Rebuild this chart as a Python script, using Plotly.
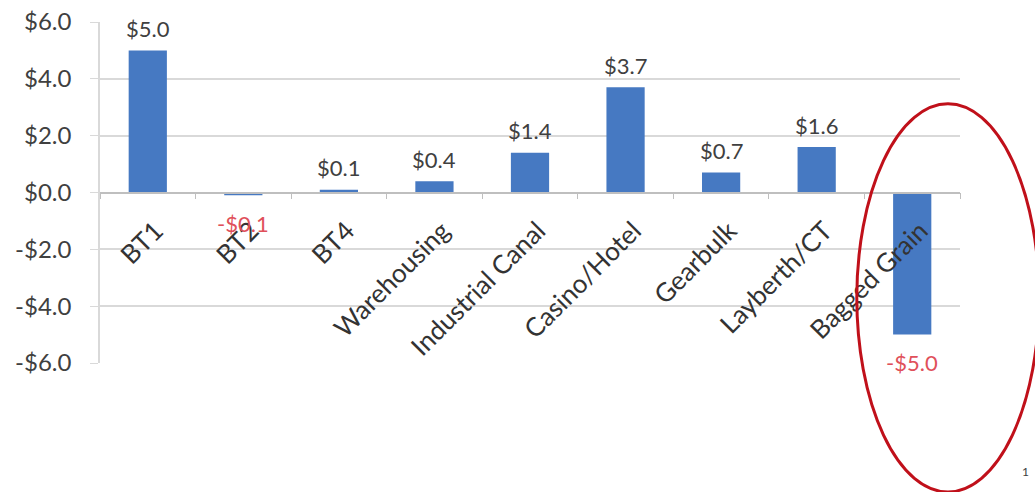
import plotly.graph_objects as go

categories = ["BT1", "BT2", "BT4", "Warehousing", "Industrial Canal", "Casino/Hotel",
              "Gearbulk", "Layberth/CT", "Bagged Grain"]
values = [5.0, -0.1, 0.1, 0.4, 1.4, 3.7, 0.7, 1.6, -5.0]
y_ticks = [-6, -4, -2, 0, 2, 4, 6]
y_tick_labels = ["-$6.0", "-$4.0", "-$2.0", "$0.0", "$2.0", "$4.0", "$6.0"]

FONT = "Lato, 'Open Sans', sans-serif"

fig = go.Figure()
fig.add_trace(go.Bar(
    x=categories, y=values,
    marker=dict(color="#4679C2", line=dict(width=0)),
    cliponaxis=False,
))

annotations = []
for c, v in zip(categories, values):
    neg = v < 0
    annotations.append(dict(
        x=c, y=v, xref="x", yref="y",
        text=("-$%.1f" % abs(v)) if neg else ("$%.1f" % v),
        showarrow=False, yanchor="middle",
        yshift=-28 if neg else 22,
        font=dict(size=22, color="#E0505A" if neg else "#404040", family=FONT),
    ))
annotations.append(dict(
    text="1", xref="paper", yref="paper", x=1.083, y=-0.345,
    showarrow=False, font=dict(size=12, color="#404040", family=FONT),
))

fig.update_layout(
    width=1035, height=492,
    margin=dict(l=100, r=75, t=22, b=129, autoexpand=False),
    paper_bgcolor="white", plot_bgcolor="white",
    showlegend=False,
    bargap=0.6,
    font=dict(family=FONT, size=22, color="#404040"),
    xaxis=dict(
        type="category", automargin=False,
        anchor="free", position=0.5,
        showline=True, linecolor="#bfbfbf", linewidth=1.5,
        ticks="outside", ticklen=6, tickcolor="#bfbfbf",
        tickson="boundaries",
        tickangle=-45,
        ticklabelstandoff=12,
        ticklabelshift=8,
        tickfont=dict(size=26, color="#333333", family=FONT),
        showgrid=False,
    ),
    yaxis=dict(
        range=[-6, 6], domain=[0, 1], automargin=False,
        tickvals=y_ticks, ticktext=y_tick_labels,
        showgrid=True, gridcolor="#d9d9d9", gridwidth=1.5,
        zeroline=False,
        showline=True, linecolor="#d9d9d9", linewidth=1.5,
        ticks="outside", ticklen=8, tickcolor="#d9d9d9",
        ticklabelstandoff=14,
        tickfont=dict(size=24, color="#404040", family=FONT),
    ),
    shapes=[dict(
        type="circle", xref="paper", yref="paper",
        x0=0.880, x1=1.092, y0=-0.378, y1=0.760,
        line=dict(color="#C0101A", width=3),
    )],
    annotations=annotations,
)

fig.write_html("out.html")
